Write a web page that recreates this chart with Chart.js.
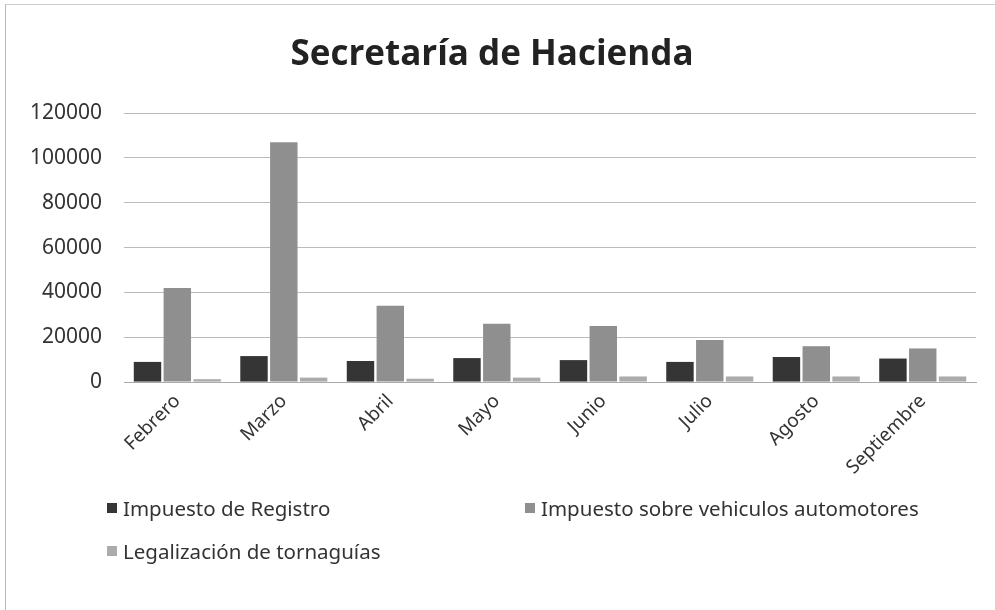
<!DOCTYPE html>
<html>
<head>
<meta charset="utf-8">
<script src="https://cdn.jsdelivr.net/npm/chart.js@4/dist/chart.umd.min.js"></script>
<style>
  html, body { margin: 0; padding: 0; background: #fff; }
  #wrap { position: relative; width: 995px; height: 610px; }
  #frame { position: absolute; left: 5px; top: 4px; right: 0; bottom: 0; border-left: 1px solid #bbb; border-top: 1px solid #ccc; pointer-events: none; }
  #c { position: absolute; left: 0; top: 0; }
  #legend { position: absolute; left: 0; top: 0; width: 995px; height: 610px; pointer-events: none; font-family: "Noto Sans", "Open Sans", sans-serif; font-size: 20.5px; color: #333; }
  .item { position: absolute; white-space: nowrap; display: flex; align-items: center; }
  .box { width: 10px; height: 10px; margin-right: 6px; display: inline-block; }
</style>
</head>
<body>
<div id="wrap">
  <canvas id="c" width="995" height="610"></canvas>
  <div id="legend"></div>
  <div id="frame"></div>
</div>
<script>
const titleText = "Secretaría de Hacienda";
const categories = ["Febrero", "Marzo", "Abril", "Mayo", "Junio", "Julio", "Agosto", "Septiembre"];
const seriesNames = ["Impuesto de Registro", "Impuesto sobre vehiculos automotores", "Legalización de tornaguías"];
const registro = [9000, 11600, 9400, 10700, 9800, 9000, 11200, 10500];
const vehiculos = [42000, 107000, 34000, 26000, 25000, 18800, 16000, 15000];
const tornaguias = [1300, 2000, 1500, 2000, 2500, 2500, 2500, 2500];
const yTicks = [0, 20000, 40000, 60000, 80000, 100000, 120000];

const colors = ["#353535", "#8f8f8f", "#ababab"];
const seriesValues = [registro, vehiculos, tornaguias];

const datasets = seriesNames.map((name, i) => ({
  label: name,
  data: seriesValues[i],
  backgroundColor: colors[i],
  borderWidth: 0,
  barPercentage: 0.92,
  categoryPercentage: 0.84
}));

const chart = new Chart(document.getElementById("c"), {
  type: "bar",
  data: { labels: categories, datasets },
  options: {
    responsive: false,
    animation: false,
    layout: { padding: { left: 8, right: 19, top: 14, bottom: 123 } },
    plugins: {
      legend: { display: false },
      tooltip: { enabled: false },
      title: {
        display: true,
        text: titleText,
        color: "#222",
        font: { family: "Open Sans", size: 35, weight: "bold" },
        padding: { top: 20, bottom: 37 }
      }
    },
    scales: {
      x: {
        grid: { display: false, drawTicks: false },
        border: { display: true, color: "#aaa" },
        ticks: {
          color: "#333",
          font: { family: "Noto Sans", size: 19 },
          minRotation: 45,
          maxRotation: 45,
          padding: 8
        }
      },
      y: {
        min: 0,
        max: 120000,
        afterBuildTicks: (axis) => { axis.ticks = yTicks.map(v => ({ value: v })); },
        grid: { color: "#bbb", drawTicks: false },
        border: { display: false },
        ticks: {
          color: "#333",
          font: { family: "Noto Sans", size: 21 },
          padding: 22,
          callback: (v) => String(v)
        }
      }
    }
  }
});

// HTML legend built from dataset labels/colors
const legendEl = document.getElementById("legend");
const positions = [[107, 494], [525, 494], [107, 537]];
datasets.forEach((ds, i) => {
  const it = document.createElement("div");
  it.className = "item";
  it.style.left = positions[i][0] + "px";
  it.style.top = positions[i][1] + "px";
  const b = document.createElement("span");
  b.className = "box";
  b.style.background = ds.backgroundColor;
  const t = document.createElement("span");
  t.textContent = ds.label;
  it.appendChild(b);
  it.appendChild(t);
  legendEl.appendChild(it);
});
</script>
</body>
</html>
